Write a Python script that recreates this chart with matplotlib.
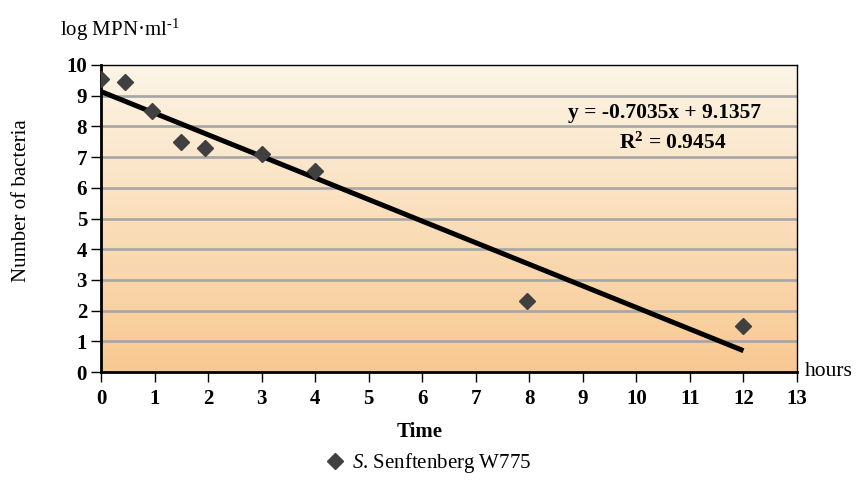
import numpy as np
import matplotlib.pyplot as plt
from matplotlib.colors import LinearSegmentedColormap
from matplotlib.lines import Line2D

# data
hours = [0, 0.45, 0.95, 1.5, 1.95, 3, 4, 7.95, 12]
log_mpn = [9.55, 9.45, 8.5, 7.5, 7.3, 7.1, 6.55, 2.3, 1.5]
slope, intercept = -0.7035, 9.1357
r_squared = 0.9454
trend_x = [0, 12]
x_ticks = list(range(0, 14))
y_ticks = list(range(0, 11))

plt.rcParams['font.family'] = ['Liberation Serif', 'DejaVu Serif']
plt.rcParams['mathtext.fontset'] = 'custom'
plt.rcParams['mathtext.rm'] = 'Liberation Serif'
plt.rcParams['mathtext.it'] = 'Liberation Serif:italic'
plt.rcParams['mathtext.bf'] = 'Liberation Serif:bold'

fig = plt.figure(figsize=(8.57, 4.83), dpi=100)
ax = fig.add_axes([101 / 857, 1 - 372 / 483, 696 / 857, 307 / 483])

# gradient background (cream at top, orange at bottom)
cmap = LinearSegmentedColormap.from_list('bg', ['#f8c891', '#fcf5e6'])
grad = np.linspace(0, 1, 256).reshape(-1, 1)
ax.imshow(grad, cmap=cmap, origin='lower', aspect='auto',
          extent=[0, 13, 0, 10], zorder=0)

for yv in y_ticks[1:-1]:
    ax.axhline(yv, color='#a6a6a6', linewidth=1.9, zorder=1)

trend_y = [slope * xv + intercept for xv in trend_x]
ax.plot(trend_x, trend_y, color='black', linewidth=3.6, zorder=2,
        solid_capstyle='butt')
ax.plot(hours, log_mpn, linestyle='none', marker='D', markersize=7.8,
        color='#404040', zorder=3)

ax.set_xlim(0, 13)
ax.set_ylim(0, 10)
ax.set_xticks(x_ticks)
ax.set_yticks(y_ticks)
ax.tick_params(direction='out', length=7, width=1, labelsize=15, pad=3)
ax.tick_params(axis='x', pad=5)
for lab in ax.get_xticklabels() + ax.get_yticklabels():
    lab.set_fontweight('bold')

ax.spines['left'].set_linewidth(2)
ax.spines['bottom'].set_linewidth(2)
ax.spines['top'].set_linewidth(1)
ax.spines['right'].set_linewidth(1)

ax.text(10.52, 8.44, f'y = {slope}x + {intercept}', ha='center', va='center',
        fontsize=15.5, fontweight='bold')
ax.text(10.68, 7.46, f'R$^\\mathbf{{2}}$ = {r_squared}', ha='center',
        va='center', fontsize=15.5, fontweight='bold')

fig.text(60 / 857, 1 - 30 / 483, 'log MPN·ml$^{\\text{-1}}$', fontsize=15,
         ha='left', va='center')
fig.text(22 / 857, 1 - 201 / 483, 'Number of bacteria', fontsize=15,
         rotation=90, ha='center', va='center')
fig.text(420 / 857, 1 - 432 / 483, 'Time', fontsize=15, fontweight='bold',
         ha='center', va='center')
fig.text(805 / 857, 1 - 371 / 483, 'hours', fontsize=15.5,
         ha='left', va='center')

# legend
handle = Line2D([], [], linestyle='none', marker='D', markersize=7.8,
                color='#404040')
fig.legend([handle], ['$\\mathit{S}$. Senftenberg W775'], loc='center',
           bbox_to_anchor=(425 / 857, 1 - 463 / 483), frameon=False,
           fontsize=15, handletextpad=0.0, handlelength=1.6)

fig.savefig('out.png', dpi=100)
